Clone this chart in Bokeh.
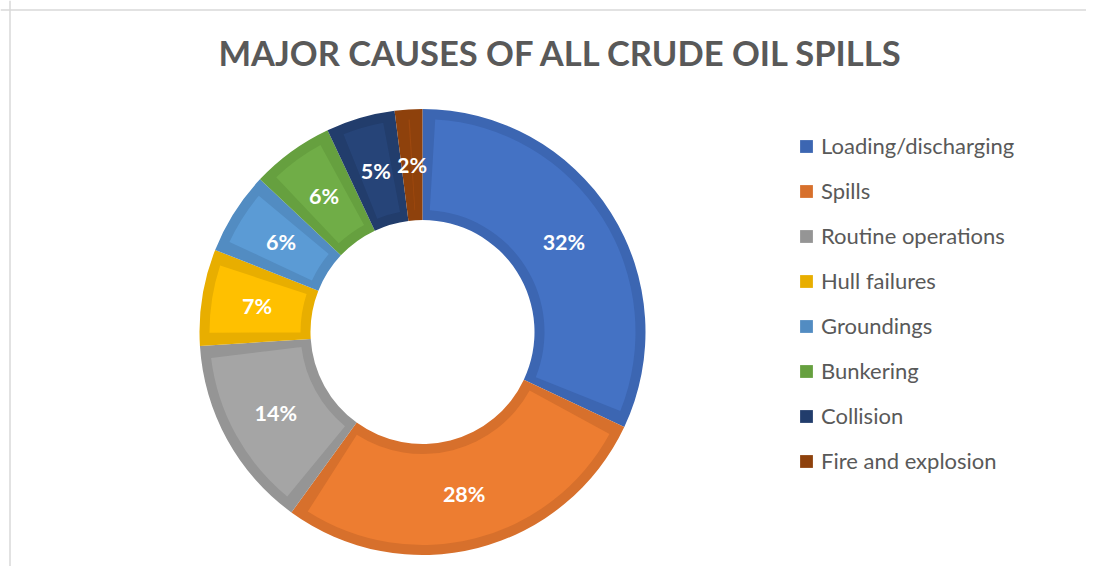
import math
from bokeh.plotting import figure
from bokeh.models import Range1d, Legend, LegendItem, Span, ColumnDataSource
from bokeh.core.properties import value
from bokeh.embed import file_html
from bokeh.resources import INLINE

# ---- data ----
categories = ["Loading/discharging", "Spills", "Routine operations", "Hull failures",
              "Groundings", "Bunkering", "Collision", "Fire and explosion"]
shares = [32, 28, 14, 7, 6, 6, 5, 2]
fill_colors = ["#4472C4", "#ED7D31", "#A5A5A5", "#FFC000",
               "#5B9BD5", "#70AD47", "#264478", "#9E480E"]
edge_colors = ["#3C66B2", "#D7702C", "#959595", "#E8AE00",
               "#528CC2", "#66A03F", "#223D6C", "#8E410C"]
title_text = "MAJOR CAUSES OF ALL CRUDE OIL SPILLS"

# ---- geometry (pixel-like data units) ----
W, H = 1086, 566
cx, cy = 422, H - 331.5
R_out, R_in = 223, 112
band = 10
r_mid = (R_out + R_in) / 2

total = sum(shares)
starts, ends, mids = [], [], []
cum = 0
for s in shares:
    a0 = math.pi / 2 - 2 * math.pi * cum / total
    cum += s
    a1 = math.pi / 2 - 2 * math.pi * cum / total
    starts.append(a0)
    ends.append(a1)
    mids.append((a0 + a1) / 2)

d = band / r_mid
src = ColumnDataSource(dict(
    cat=categories,
    start=starts, end=ends,
    start_in=[a - d for a in starts], end_in=[a + d for a in ends],
    fill=fill_colors, edge=edge_colors,
    lx=[cx + r_mid * math.cos(m) for m in mids],
    ly=[cy + r_mid * math.sin(m) for m in mids],
    lab=[f"{s}%" for s in shares],
))

p = figure(width=W, height=H, output_backend="svg", toolbar_location=None,
           x_range=Range1d(0, W), y_range=Range1d(0, H), min_border=0,
           outline_line_color=None)
p.axis.visible = False
p.grid.visible = False
p.background_fill_color = "white"
p.border_fill_color = "white"

# chart area border (top and left only visible in the window)
p.add_layout(Span(location=H - 9.5, dimension="width", line_color="#D9D9D9", line_width=1.5))
p.add_layout(Span(location=9.5, dimension="height", line_color="#D9D9D9", line_width=1.5))

outer = p.annular_wedge(x=cx, y=cy, inner_radius=R_in, outer_radius=R_out,
                        start_angle="start", end_angle="end", direction="clock",
                        fill_color="edge", line_color=None, source=src)
p.annular_wedge(x=cx, y=cy, inner_radius=R_in + band, outer_radius=R_out - band,
                start_angle="start_in", end_angle="end_in", direction="clock",
                fill_color="fill", line_color=None, source=src)

p.text(x="lx", y="ly", text="lab", source=src, text_color="white",
       text_font=value("Lato"), text_font_style="bold", text_font_size="21.5px",
       text_align="center", text_baseline="middle")

# title
p.text(x=[561], y=[H - 52], text=[title_text], text_color="#595959",
       text_font=value("Lato"), text_font_style="bold", text_font_size="34.5px",
       text_align="center", text_baseline="alphabetic")

items = [LegendItem(label=c, renderers=[outer], index=i) for i, c in enumerate(categories)]
legend = Legend(items=items, location=(798, 92), orientation="vertical",
                glyph_width=16, glyph_height=16, label_standoff=7,
                label_text_font="Lato", label_text_font_size="22px",
                label_text_color="#595959", label_height=22, spacing=18,
                padding=0, margin=0, border_line_color=None,
                background_fill_alpha=0)
p.add_layout(legend)

open("out.html", "w").write(file_html(p, INLINE))
